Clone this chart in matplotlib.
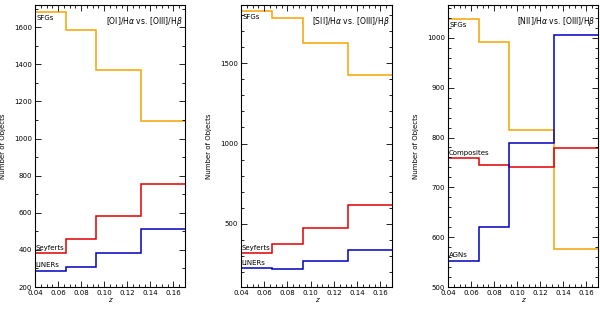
import matplotlib.pyplot as plt
from matplotlib.ticker import MultipleLocator

# redshift bin edges (shared by all panels)
z_edges = [0.04, 0.067, 0.093, 0.132, 0.17]

# panel 1: [OI]/Ha vs. [OIII]/Hb
oi_sfg = [1683, 1587, 1371, 1095]
oi_sey = [382, 458, 584, 757]
oi_liner = [288, 310, 382, 512]

# panel 2: [SII]/Ha vs. [OIII]/Hb
sii_sfg = [1827, 1783, 1624, 1425]
sii_sey = [316, 372, 474, 617]
sii_liner = [225, 219, 268, 338]

# panel 3: [NII]/Ha vs. [OIII]/Hb
nii_sfg = [1038, 991, 815, 577]
nii_comp = [758, 745, 740, 779]
nii_agn = [553, 620, 790, 1005]

titles = [r'[OI]/H$\alpha$ vs. [OIII]/H$\beta$',
          r'[SII]/H$\alpha$ vs. [OIII]/H$\beta$',
          r'[NII]/H$\alpha$ vs. [OIII]/H$\beta$']

orange = '#F5A300'
red = '#E00000'
blue = '#0000C0'

plt.rcParams['font.family'] = 'DejaVu Sans'
fig = plt.figure(figsize=(6, 3.1), dpi=100)

W, H = 600.0, 310.0
boxes = [(35, 185), (241, 392), (448, 598)]
top, bottom = 5, 287

panels = [
    dict(series=[(oi_sfg, orange, 'SFGs', 'below'),
                 (oi_sey, red, 'Seyferts', 'above'),
                 (oi_liner, blue, 'LINERs', 'above')],
         ylim=(200, 1720), major=200, minor=100),
    dict(series=[(sii_sfg, orange, 'SFGs', 'below'),
                 (sii_sey, red, 'Seyferts', 'above'),
                 (sii_liner, blue, 'LINERs', 'above')],
         ylim=(107, 1862), major=500, minor=100),
    dict(series=[(nii_sfg, orange, 'SFGs', 'below'),
                 (nii_comp, red, 'Composites', 'above'),
                 (nii_agn, blue, 'AGNs', 'above')],
         ylim=(500, 1066), major=100, minor=20),
]

for (x0, x1), p, title in zip(boxes, panels, titles):
    ax = fig.add_axes([x0 / W, 1 - bottom / H, (x1 - x0) / W, (bottom - top) / H])
    ax.set_xlim(z_edges[0], z_edges[-1])
    ax.set_ylim(*p['ylim'])
    for vals, col, name, pos in p['series']:
        ax.stairs(vals, z_edges, baseline=None, color=col, linewidth=1.1)
        span = p['ylim'][1] - p['ylim'][0]
        if pos == 'below':
            ax.text(z_edges[0] + 0.0015, vals[0] - span * 0.012, name,
                    fontsize=5, va='top', ha='left')
        else:
            ax.text(z_edges[0] + 0.0005, vals[0] + span * 0.008, name,
                    fontsize=5, va='bottom', ha='left')
    ax.text(0.985, 0.965, title, transform=ax.transAxes, fontsize=5.5,
            ha='right', va='top')
    ax.xaxis.set_major_locator(MultipleLocator(0.02))
    ax.xaxis.set_minor_locator(MultipleLocator(0.005))
    ax.yaxis.set_major_locator(MultipleLocator(p['major']))
    ax.yaxis.set_minor_locator(MultipleLocator(p['minor']))
    ax.xaxis.set_major_formatter(plt.FuncFormatter(lambda v, _: f'{v:.2f}'))
    ax.tick_params(which='both', direction='in', top=True, right=True,
                   labelsize=5, width=0.6, pad=2)
    ax.tick_params(which='major', length=4)
    ax.tick_params(which='minor', length=2)
    for s in ax.spines.values():
        s.set_linewidth(0.8)
    ax.set_xlabel('z', fontsize=5, style='italic', labelpad=1)
    ax.set_ylabel('Number of Objects', fontsize=5, labelpad=6)

fig.savefig('out.png', dpi=100)
